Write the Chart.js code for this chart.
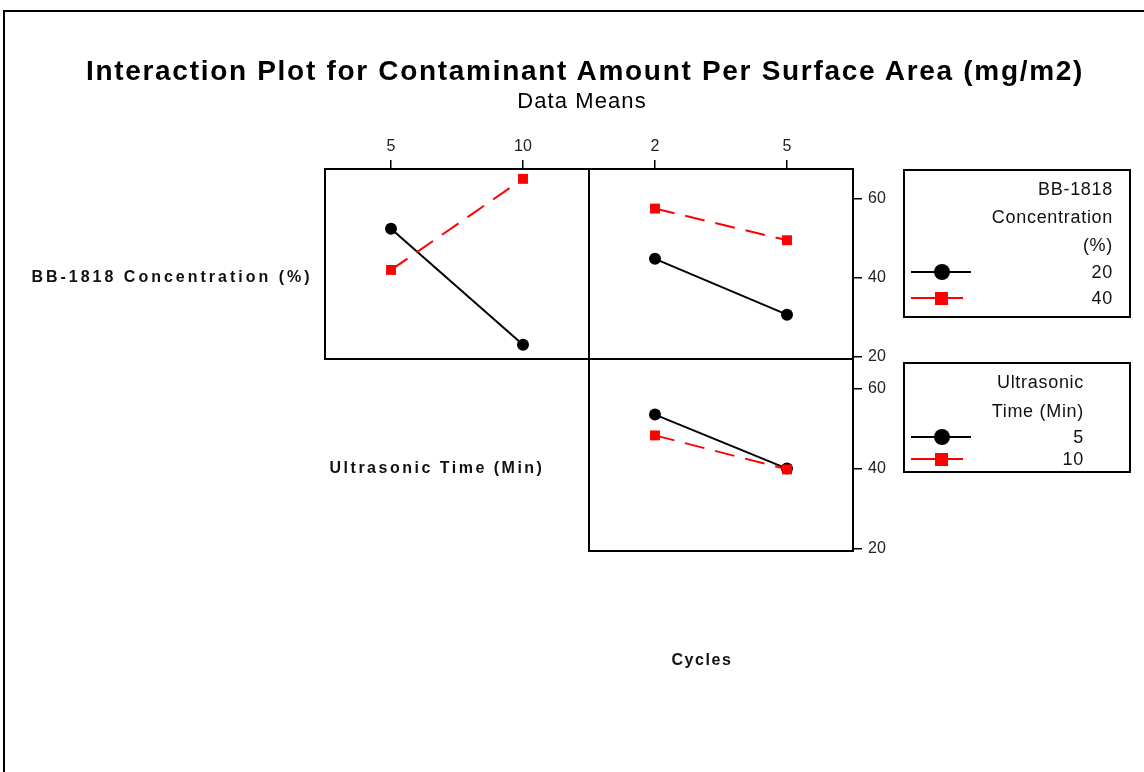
<!DOCTYPE html>
<html><head><meta charset="utf-8">
<script src="https://cdn.jsdelivr.net/npm/chart.js@4.4.0/dist/chart.umd.min.js"></script>
<style>
body{margin:0;background:#fff;}
#wrap{position:relative;width:1144px;height:772px;overflow:hidden;font-family:"Liberation Sans",Arial,sans-serif;background:#fff;}
canvas{position:absolute;left:0;top:0;}
.c{position:absolute;white-space:nowrap;color:#000;transform:translate(-50%,-50%);}
.r{position:absolute;white-space:nowrap;color:#111;transform:translate(-100%,-50%);font-size:18px;letter-spacing:0.7px;}
.box{position:absolute;border:2px solid #000;box-sizing:border-box;}
.ln{position:absolute;height:2px;}
.dot{position:absolute;border-radius:50%;background:#000;}
.sq{position:absolute;background:#ff0000;}
</style></head><body>
<div id="wrap">
  <div style="position:absolute;left:3px;top:10px;width:1141px;height:762px;border-top:2px solid #000;border-left:2px solid #000;box-sizing:border-box;"></div>
  <canvas id="c1" width="1144" height="772"></canvas>
  <canvas id="c2" width="1144" height="772"></canvas>
  <canvas id="c3" width="1144" height="772"></canvas>
  <div id="texts"></div>
</div>
<script>
// ---- data ----
const titleText = 'Interaction Plot for Contaminant Amount Per Surface Area (mg/m2)';
const subtitleText = 'Data Means';
const factorNames = ['BB-1818 Concentration (%)', 'Ultrasonic Time (Min)', 'Cycles'];
const timeLevels = [5, 10];
const cycleLevels = [2, 5];
const concLevels = ['20', '40'];
const timeLegendLevels = ['5', '10'];
const yTicks = [20, 40, 60];
// means (mg/m2)
const conc20ByTime = [52.4, 23.1];
const conc40ByTime = [42.0, 65.0];
const conc20ByCycles = [44.8, 30.7];
const conc40ByCycles = [57.5, 49.5];
const time5ByCycles = [53.6, 40.1];
const time10ByCycles = [48.4, 39.9];

const pts = (xs, ys) => xs.map((x, i) => ({x: x, y: ys[i]}));

const framePlugin = {
  id: 'frame',
  afterDatasetsDraw(chart) {
    const {ctx, chartArea: a} = chart;
    ctx.save();
    ctx.strokeStyle = '#000';
    ctx.lineWidth = 2;
    ctx.strokeRect(a.left, a.top, a.right - a.left, a.bottom - a.top);
    ctx.restore();
  }
};

function blackSet(data) {
  return {data: data, order: 1, borderColor: '#000', backgroundColor: '#000', borderWidth: 2,
    pointStyle: 'circle', pointRadius: 6, pointBorderWidth: 0, tension: 0};
}
function redSet(data) {
  return {data: data, order: 0, borderColor: '#ff0000', backgroundColor: '#ff0000', borderWidth: 2,
    borderDash: [20, 11], pointStyle: 'rect', pointRadius: 7, pointBorderWidth: 0, tension: 0};
}

const tickFont = {family: '"Liberation Sans", Arial, sans-serif', size: 16};
const gridCfg = {drawOnChartArea: false, drawTicks: true, tickLength: 9, color: '#000', lineWidth: 1.5};

function makePanel(id, datasets, pad, xCfg, yCfg) {
  return new Chart(document.getElementById(id), {
    type: 'line',
    data: {datasets: datasets},
    options: {
      responsive: false, animation: false, events: [],
      layout: {padding: pad},
      plugins: {legend: {display: false}, tooltip: {enabled: false}},
      scales: {
        x: {
          type: 'linear', position: 'top', display: xCfg.display,
          min: xCfg.min, max: xCfg.max,
          afterBuildTicks: s => { s.ticks = xCfg.ticks.map(v => ({value: v})); },
          afterFit: s => { s.height = xCfg.display ? 44 : 0; },
          ticks: {font: tickFont, color: '#222', padding: 4, maxRotation: 0},
          grid: gridCfg, border: {display: false}
        },
        y: {
          type: 'linear', position: 'right', display: yCfg.display,
          min: 19.5, max: 67.5,
          afterBuildTicks: s => { s.ticks = yTicks.map(v => ({value: v})); },
          afterFit: s => { s.width = yCfg.display ? 40 : 0; },
          ticks: {font: tickFont, color: '#222', padding: 6},
          grid: gridCfg, border: {display: false}
        }
      }
    },
    plugins: [framePlugin]
  });
}

// top-left: x = Ultrasonic Time, lines = BB-1818 Concentration
makePanel('c1',
  [blackSet(pts(timeLevels, conc20ByTime)), redSet(pts(timeLevels, conc40ByTime))],
  {left: 325, right: 1144 - 589, top: 169 - 44, bottom: 772 - 359},
  {display: true, min: 2.5, max: 12.5, ticks: timeLevels},
  {display: false});
// top-right: x = Cycles, lines = BB-1818 Concentration
makePanel('c2',
  [blackSet(pts(cycleLevels, conc20ByCycles)), redSet(pts(cycleLevels, conc40ByCycles))],
  {left: 589, right: 1144 - 853 - 40, top: 169 - 44, bottom: 772 - 359},
  {display: true, min: 0.5, max: 6.5, ticks: cycleLevels},
  {display: true});
// bottom: x = Cycles, lines = Ultrasonic Time
makePanel('c3',
  [blackSet(pts(cycleLevels, time5ByCycles)), redSet(pts(cycleLevels, time10ByCycles))],
  {left: 589, right: 1144 - 853 - 40, top: 359, bottom: 772 - 551},
  {display: false, min: 0.5, max: 6.5, ticks: cycleLevels},
  {display: true});

// ---- texts & legends ----
const T = document.getElementById('texts');
function addC(text, x, y, style) {
  const d = document.createElement('div'); d.className = 'c'; d.textContent = text;
  d.style.left = x + 'px'; d.style.top = y + 'px'; Object.assign(d.style, style || {}); T.appendChild(d);
}
function addR(text, x, y) {
  const d = document.createElement('div'); d.className = 'r'; d.textContent = text;
  d.style.left = x + 'px'; d.style.top = y + 'px'; T.appendChild(d);
}
function addEl(cls, l, t, w, h, bg) {
  const d = document.createElement('div'); d.className = cls;
  Object.assign(d.style, {left: l + 'px', top: t + 'px', width: w + 'px', height: h + 'px'});
  if (bg) d.style.background = bg; T.appendChild(d);
}
addC(titleText, 585, 71, {fontSize: '28px', fontWeight: 'bold', letterSpacing: '1.7px'});
addC(subtitleText, 582, 101, {fontSize: '22px', letterSpacing: '1.1px'});
const lblStyle = {fontSize: '16px', fontWeight: 'bold', color: '#111'};
addC(factorNames[0], 172, 277, Object.assign({letterSpacing: '3px'}, lblStyle));
addC(factorNames[1], 437, 468, Object.assign({letterSpacing: '2.5px'}, lblStyle));
addC(factorNames[2], 702, 660, Object.assign({letterSpacing: '1.6px'}, lblStyle));

function legend(box, titleLines, levels, rightX, rowsY) {
  addEl('box', box.l, box.t, box.w, box.h);
  titleLines.forEach((s, i) => addR(s, rightX, rowsY[i]));
  const y1 = rowsY[titleLines.length], y2 = rowsY[titleLines.length + 1];
  addR(levels[0], rightX, y1);
  addR(levels[1], rightX, y2);
  addEl('ln', 911, y1 - 1, 60, 2, '#000');
  addEl('dot', 942 - 8, y1 - 8, 16, 16);
  addEl('ln', 911, y2 - 1, 52, 2, '#ff0000');
  addEl('sq', 941 - 6.5, y2 - 6.5, 13, 13);
}
legend({l: 903, t: 169, w: 228, h: 149}, ['BB-1818', 'Concentration', '(%)'], concLevels, 1113, [189, 217, 245, 272, 298]);
legend({l: 903, t: 362, w: 228, h: 111}, ['Ultrasonic', 'Time (Min)'], timeLegendLevels, 1084, [382, 411, 437, 459]);
</script>
</body></html>
